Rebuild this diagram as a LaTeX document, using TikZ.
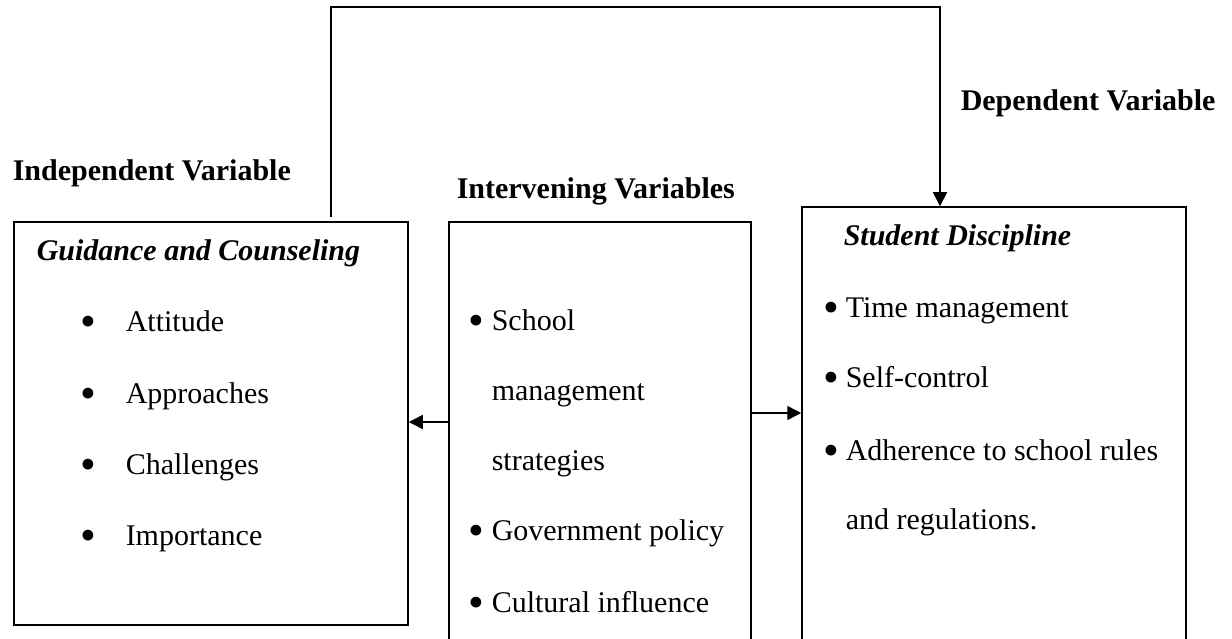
\documentclass[tikz,border=0pt]{standalone}
\usepackage{fontspec}
\usepackage{graphicx}
\setmainfont{Liberation Serif}
\usetikzlibrary{arrows.meta,positioning}
\tikzstyle{varbox} = [draw, rectangle, line width=0.6pt, inner sep=0pt]
\tikzstyle{heading} = [font=\fontsize{12pt}{14pt}\selectfont\bfseries, inner sep=0pt, anchor=base west]
\tikzstyle{boxtitle} = [font=\fontsize{12pt}{14pt}\selectfont\bfseries\itshape, inner sep=0pt, anchor=base west]
\tikzstyle{entry} = [font=\fontsize{12pt}{14pt}\selectfont, inner sep=0pt, anchor=base west]
\newcommand{\bul}[1]{\makebox[#1][l]{\raisebox{-2pt}{\scalebox{1.5}{\textbullet}}}}

\begin{document}
\begin{tikzpicture}[x=0.4pt, y=-0.4pt, >={Triangle[length=5.6pt,width=5.6pt]}, line width=0.6pt]
\useasboundingbox (0,0) rectangle (1232,639);
\clip (0,0) rectangle (1232,639);

% We start by placing the three boxes
\node [varbox, minimum width=157.6pt, minimum height=161.2pt] (leftbox) at (211,423.5) {};
\node [varbox, minimum width=120.8pt, minimum height=171.2pt] (midbox) at (600,436) {};
\node [varbox, minimum width=153.6pt, minimum height=177.2pt] (rightbox) at (994,428.5) {};

% headings above the boxes
\node [heading] (indep) at (12,180) {Independent Variable};
\node [heading] (interv) at (456,198) {Intervening Variables};
\node [heading] (dep) at (960,110) {Dependent Variable};

% independent variable
\node [boxtitle] (gc) at (36,260) {Guidance and Counseling};
\node [entry] (att) at (80,331) {\bul{18pt}Attitude};
\node [entry] (appr) at (80,403) {\bul{18pt}Approaches};
\node [entry] (chal) at (80,474) {\bul{18pt}Challenges};
\node [entry] (imp) at (80,545) {\bul{18pt}Importance};

% intervening variables
\node [entry] (school) at (468,330) {\bul{9.2pt}School};
\node [entry] (manag) at (491,400) {management};
\node [entry] (strat) at (491,470) {strategies};
\node [entry] (gov) at (468,540) {\bul{9.2pt}Government policy};
\node [entry] (cult) at (468,612) {\bul{9.2pt}Cultural influence};

% dependent variable
\node [boxtitle] (sd) at (843,245) {Student Discipline};
\node [entry] (time) at (823,317) {\bul{8.8pt}Time management};
\node [entry] (self) at (823,387) {\bul{8.8pt}Self-control};
\node [entry] (adh) at (823,460) {\bul{8.8pt}Adherence to school rules};
\node [entry] (regs) at (845,529) {and regulations.};

% Once the boxes are placed, connecting them is easy.
\draw [->] (midbox.west |- 0,422) -- (leftbox.east |- 0,422);
\draw [->] (midbox.east |- 0,413) -- (rightbox.west |- 0,413);
\coordinate (loopstart) at (331,217);
\coordinate (loopend) at (rightbox.north -| 940,0);
\draw [->] (loopstart) -- ++(0,-210) -| (loopend);
\end{tikzpicture}
\end{document}
